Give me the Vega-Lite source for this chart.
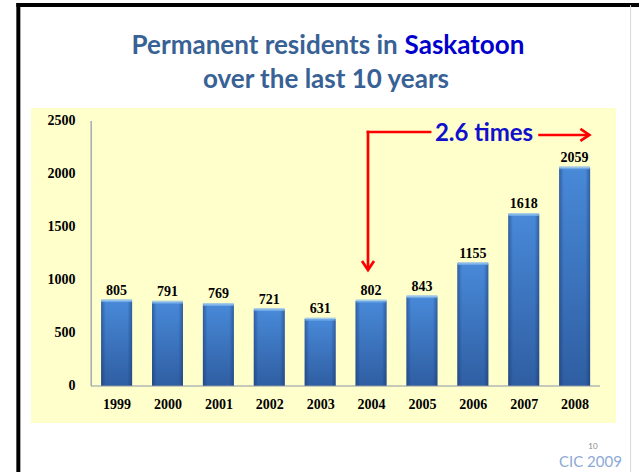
{
  "$schema": "https://vega.github.io/schema/vega-lite/v6.json",
  "width": 585,
  "height": 315,
  "autosize": "none",
  "padding": {"left": 31, "top": 108, "right": 23, "bottom": 49},
  "background": "white",
  "config": {"view": {"fill": "#FFFFCC", "stroke": null}},
  "datasets": {
    "pr": [
      {"year": 1999, "residents": 805},
      {"year": 2000, "residents": 791},
      {"year": 2001, "residents": 769},
      {"year": 2002, "residents": 721},
      {"year": 2003, "residents": 631},
      {"year": 2004, "residents": 802},
      {"year": 2005, "residents": 843},
      {"year": 2006, "residents": 1155},
      {"year": 2007, "residents": 1618},
      {"year": 2008, "residents": 2059}
    ],
    "one": [{}]
  },
  "layer": [
    {
      "data": {"name": "pr"},
      "mark": {"type": "bar", "width": 31, "fill": {"gradient": "linear", "x1": 0, "y1": 0, "x2": 0, "y2": 1, "stops": [{"offset": 0, "color": "#4889D8"}, {"offset": 1, "color": "#2F5EA2"}]}},
      "encoding": {
        "x": {"field": "year", "type": "quantitative", "title": null, "scale": {"domain": [1997.416, 2008.715], "nice": false, "zero": false},
          "axis": {"values": [1999, 2000, 2001, 2002, 2003, 2004, 2005, 2006, 2007, 2008], "format": "d", "offset": -37, "zindex": 1, "domain": false, "ticks": false, "grid": false, "title": null, "labelFont": "Liberation Serif", "labelFontWeight": "bold", "labelFontSize": 14, "labelColor": "black", "labelPadding": 11, "labelFlush": false, "labelOverlap": false}},
        "y": {"field": "residents", "type": "quantitative", "title": null, "scale": {"domain": [-349.06, 2622.6], "nice": false, "zero": false},
          "axis": {"values": [0, 500, 1000, 1500, 2000, 2500], "format": "d", "offset": -57, "zindex": 1, "domain": false, "ticks": false, "grid": false, "title": null, "labelFont": "Liberation Serif", "labelFontWeight": "bold", "labelFontSize": 14, "labelColor": "black", "labelPadding": 13, "labelFlush": false, "labelOverlap": false}},
        "y2": {"datum": 0}
      }
    },
    {
      "data": {"name": "pr"},
      "mark": {"type": "bar", "width": 31, "fill": {"gradient": "linear", "x1": 0, "y1": 0, "x2": 1, "y2": 0, "stops": [{"offset": 0, "color": "rgba(20,45,100,0.45)"}, {"offset": 0.15, "color": "rgba(20,45,100,0.0)"}, {"offset": 0.85, "color": "rgba(20,45,100,0.0)"}, {"offset": 1, "color": "rgba(20,45,100,0.45)"}]}},
      "encoding": {
        "x": {"field": "year", "type": "quantitative", "title": null, "scale": {"domain": [1997.416, 2008.715], "nice": false, "zero": false}},
        "y": {"field": "residents", "type": "quantitative", "title": null, "scale": {"domain": [-349.06, 2622.6], "nice": false, "zero": false}},
        "y2": {"datum": 0}
      }
    },
    {
      "data": {"name": "pr"},
      "mark": {"type": "tick", "orient": "horizontal", "thickness": 3, "size": 31, "color": "#80B6EE"},
      "encoding": {
        "x": {"field": "year", "type": "quantitative", "title": null, "scale": {"domain": [1997.416, 2008.715], "nice": false, "zero": false}},
        "y": {"field": "residents", "type": "quantitative", "title": null, "scale": {"domain": [-349.06, 2622.6], "nice": false, "zero": false}}
      }
    },
    {
      "data": {"name": "pr"},
      "mark": {"type": "text", "font": "Liberation Serif", "fontWeight": "bold", "fontSize": 14, "color": "black", "baseline": "alphabetic", "dy": -6},
      "encoding": {
        "x": {"field": "year", "type": "quantitative", "title": null, "scale": {"domain": [1997.416, 2008.715], "nice": false, "zero": false}},
        "y": {"field": "residents", "type": "quantitative", "title": null, "scale": {"domain": [-349.06, 2622.6], "nice": false, "zero": false}},
        "text": {"field": "residents", "type": "quantitative"}
      }
    },
    {
      "data": {"name": "one"},
      "mark": {"type": "rule", "color": "#8C96A8", "strokeWidth": 1.2},
      "encoding": {
        "x": {"datum": 1998.5, "type": "quantitative", "title": null, "scale": {"domain": [1997.416, 2008.715], "nice": false, "zero": false}},
        "x2": {"datum": 2008.5},
        "y": {"datum": 0, "type": "quantitative", "title": null, "scale": {"domain": [-349.06, 2622.6], "nice": false, "zero": false}}
      }
    },
    {
      "data": {"name": "one"},
      "mark": {"type": "rule", "color": "#8C96A8", "strokeWidth": 1.2},
      "encoding": {
        "x": {"datum": 1998.5, "type": "quantitative", "title": null, "scale": {"domain": [1997.416, 2008.715], "nice": false, "zero": false}},
        "y": {"datum": 0, "type": "quantitative", "title": null, "scale": {"domain": [-349.06, 2622.6], "nice": false, "zero": false}},
        "y2": {"datum": 2500}
      }
    },
    {
      "data": {"name": "one"},
      "mark": {"type": "rule", "color": "#FF0000", "strokeWidth": 2.7, "strokeCap": "square"},
      "encoding": {
        "x": {"datum": 2003.94, "type": "quantitative", "title": null, "scale": {"domain": [1997.416, 2008.715], "nice": false, "zero": false}},
        "y": {"datum": 2396, "type": "quantitative", "title": null, "scale": {"domain": [-349.06, 2622.6], "nice": false, "zero": false}},
        "y2": {"datum": 1110}
      }
    },
    {
      "data": {"name": "one"},
      "mark": {"type": "rule", "color": "#FF0000", "strokeWidth": 2.7, "strokeCap": "square"},
      "encoding": {
        "x": {"datum": 2003.94, "type": "quantitative", "title": null, "scale": {"domain": [1997.416, 2008.715], "nice": false, "zero": false}},
        "x2": {"datum": 2005.16},
        "y": {"datum": 2396, "type": "quantitative", "title": null, "scale": {"domain": [-349.06, 2622.6], "nice": false, "zero": false}}
      }
    },
    {
      "data": {"name": "one"},
      "mark": {"type": "rule", "color": "#FF0000", "strokeWidth": 2.7},
      "encoding": {
        "x": {"datum": 2007.285, "type": "quantitative", "title": null, "scale": {"domain": [1997.416, 2008.715], "nice": false, "zero": false}},
        "x2": {"datum": 2008.26},
        "y": {"datum": 2368, "type": "quantitative", "title": null, "scale": {"domain": [-349.06, 2622.6], "nice": false, "zero": false}}
      }
    },
    {
      "data": {"name": "one"},
      "mark": {"type": "point", "shape": "M-0.6,-0.9L0,0L0.6,-0.9", "size": 400, "filled": false, "stroke": "#FF0000", "strokeWidth": 2.7, "opacity": 1},
      "encoding": {
        "x": {"datum": 2003.94, "type": "quantitative", "title": null, "scale": {"domain": [1997.416, 2008.715], "nice": false, "zero": false}},
        "y": {"datum": 1094, "type": "quantitative", "title": null, "scale": {"domain": [-349.06, 2622.6], "nice": false, "zero": false}}
      }
    },
    {
      "data": {"name": "one"},
      "mark": {"type": "point", "shape": "M-0.9,-0.6L0,0L-0.9,0.6", "size": 400, "filled": false, "stroke": "#FF0000", "strokeWidth": 2.7, "opacity": 1},
      "encoding": {
        "x": {"datum": 2008.29, "type": "quantitative", "title": null, "scale": {"domain": [1997.416, 2008.715], "nice": false, "zero": false}},
        "y": {"datum": 2368, "type": "quantitative", "title": null, "scale": {"domain": [-349.06, 2622.6], "nice": false, "zero": false}}
      }
    },
    {
      "data": {"name": "one"},
      "mark": {"type": "text", "text": "2.6 times", "font": "Lato", "fontWeight": "bold", "fontSize": 24, "color": "#1111CC", "align": "center", "baseline": "alphabetic"},
      "encoding": {
        "x": {"datum": 2006.22, "type": "quantitative", "title": null, "scale": {"domain": [1997.416, 2008.715], "nice": false, "zero": false}},
        "y": {"datum": 2314, "type": "quantitative", "title": null, "scale": {"domain": [-349.06, 2622.6], "nice": false, "zero": false}}
      }
    },
    {
      "data": {"name": "one"},
      "mark": {"type": "text", "text": "Permanent residents in", "font": "Lato", "fontWeight": "bold", "fontSize": 26, "color": "#386195", "align": "right", "baseline": "alphabetic"},
      "encoding": {
        "x": {"datum": 2004.524, "type": "quantitative", "title": null, "scale": {"domain": [1997.416, 2008.715], "nice": false, "zero": false}},
        "y": {"datum": 3132, "type": "quantitative", "title": null, "scale": {"domain": [-349.06, 2622.6], "nice": false, "zero": false}}
      }
    },
    {
      "data": {"name": "one"},
      "mark": {"type": "text", "text": "Saskatoon", "font": "Lato", "fontWeight": "bold", "fontSize": 26, "color": "#0000CC", "align": "left", "baseline": "alphabetic"},
      "encoding": {
        "x": {"datum": 2004.659, "type": "quantitative", "title": null, "scale": {"domain": [1997.416, 2008.715], "nice": false, "zero": false}},
        "y": {"datum": 3132, "type": "quantitative", "title": null, "scale": {"domain": [-349.06, 2622.6], "nice": false, "zero": false}}
      }
    },
    {
      "data": {"name": "one"},
      "mark": {"type": "text", "text": "over the last 10 years", "font": "Lato", "fontWeight": "bold", "fontSize": 26, "color": "#386195", "align": "center", "baseline": "alphabetic"},
      "encoding": {
        "x": {"datum": 2003.114, "type": "quantitative", "title": null, "scale": {"domain": [1997.416, 2008.715], "nice": false, "zero": false}},
        "y": {"datum": 2811, "type": "quantitative", "title": null, "scale": {"domain": [-349.06, 2622.6], "nice": false, "zero": false}}
      }
    },
    {
      "data": {"name": "one"},
      "mark": {"type": "text", "text": "CIC 2009", "font": "Lato", "fontSize": 15, "color": "#8DA9D6", "align": "right", "baseline": "alphabetic"},
      "encoding": {
        "x": {"datum": 2008.928, "type": "quantitative", "title": null, "scale": {"domain": [1997.416, 2008.715], "nice": false, "zero": false}},
        "y": {"datum": -764, "type": "quantitative", "title": null, "scale": {"domain": [-349.06, 2622.6], "nice": false, "zero": false}}
      }
    },
    {
      "data": {"name": "one"},
      "mark": {"type": "text", "text": "10", "font": "Lato", "fontSize": 8, "color": "#888888", "align": "center", "baseline": "alphabetic"},
      "encoding": {
        "x": {"datum": 2008.36, "type": "quantitative", "title": null, "scale": {"domain": [1997.416, 2008.715], "nice": false, "zero": false}},
        "y": {"datum": -598, "type": "quantitative", "title": null, "scale": {"domain": [-349.06, 2622.6], "nice": false, "zero": false}}
      }
    },
    {
      "data": {"name": "one"},
      "mark": {"type": "rule", "color": "black", "strokeWidth": 4},
      "encoding": {
        "x": {"datum": 1997.069, "type": "quantitative", "title": null, "scale": {"domain": [1997.416, 2008.715], "nice": false, "zero": false}},
        "y": {"datum": 3613, "type": "quantitative", "title": null, "scale": {"domain": [-349.06, 2622.6], "nice": false, "zero": false}},
        "y2": {"datum": -1000}
      }
    },
    {
      "data": {"name": "one"},
      "mark": {"type": "rule", "color": "black", "strokeWidth": 4},
      "encoding": {
        "x": {"datum": 1997.03, "type": "quantitative", "title": null, "scale": {"domain": [1997.416, 2008.715], "nice": false, "zero": false}},
        "x2": {"datum": 2009.5},
        "y": {"datum": 3594, "type": "quantitative", "title": null, "scale": {"domain": [-349.06, 2622.6], "nice": false, "zero": false}}
      }
    },
    {
      "data": {"name": "one"},
      "mark": {"type": "rule", "color": "#D8D8D8", "strokeWidth": 1},
      "encoding": {
        "x": {"datum": 2009.1, "type": "quantitative", "title": null, "scale": {"domain": [1997.416, 2008.715], "nice": false, "zero": false}},
        "y": {"datum": 3594, "type": "quantitative", "title": null, "scale": {"domain": [-349.06, 2622.6], "nice": false, "zero": false}},
        "y2": {"datum": -1000}
      }
    }
  ]
}
